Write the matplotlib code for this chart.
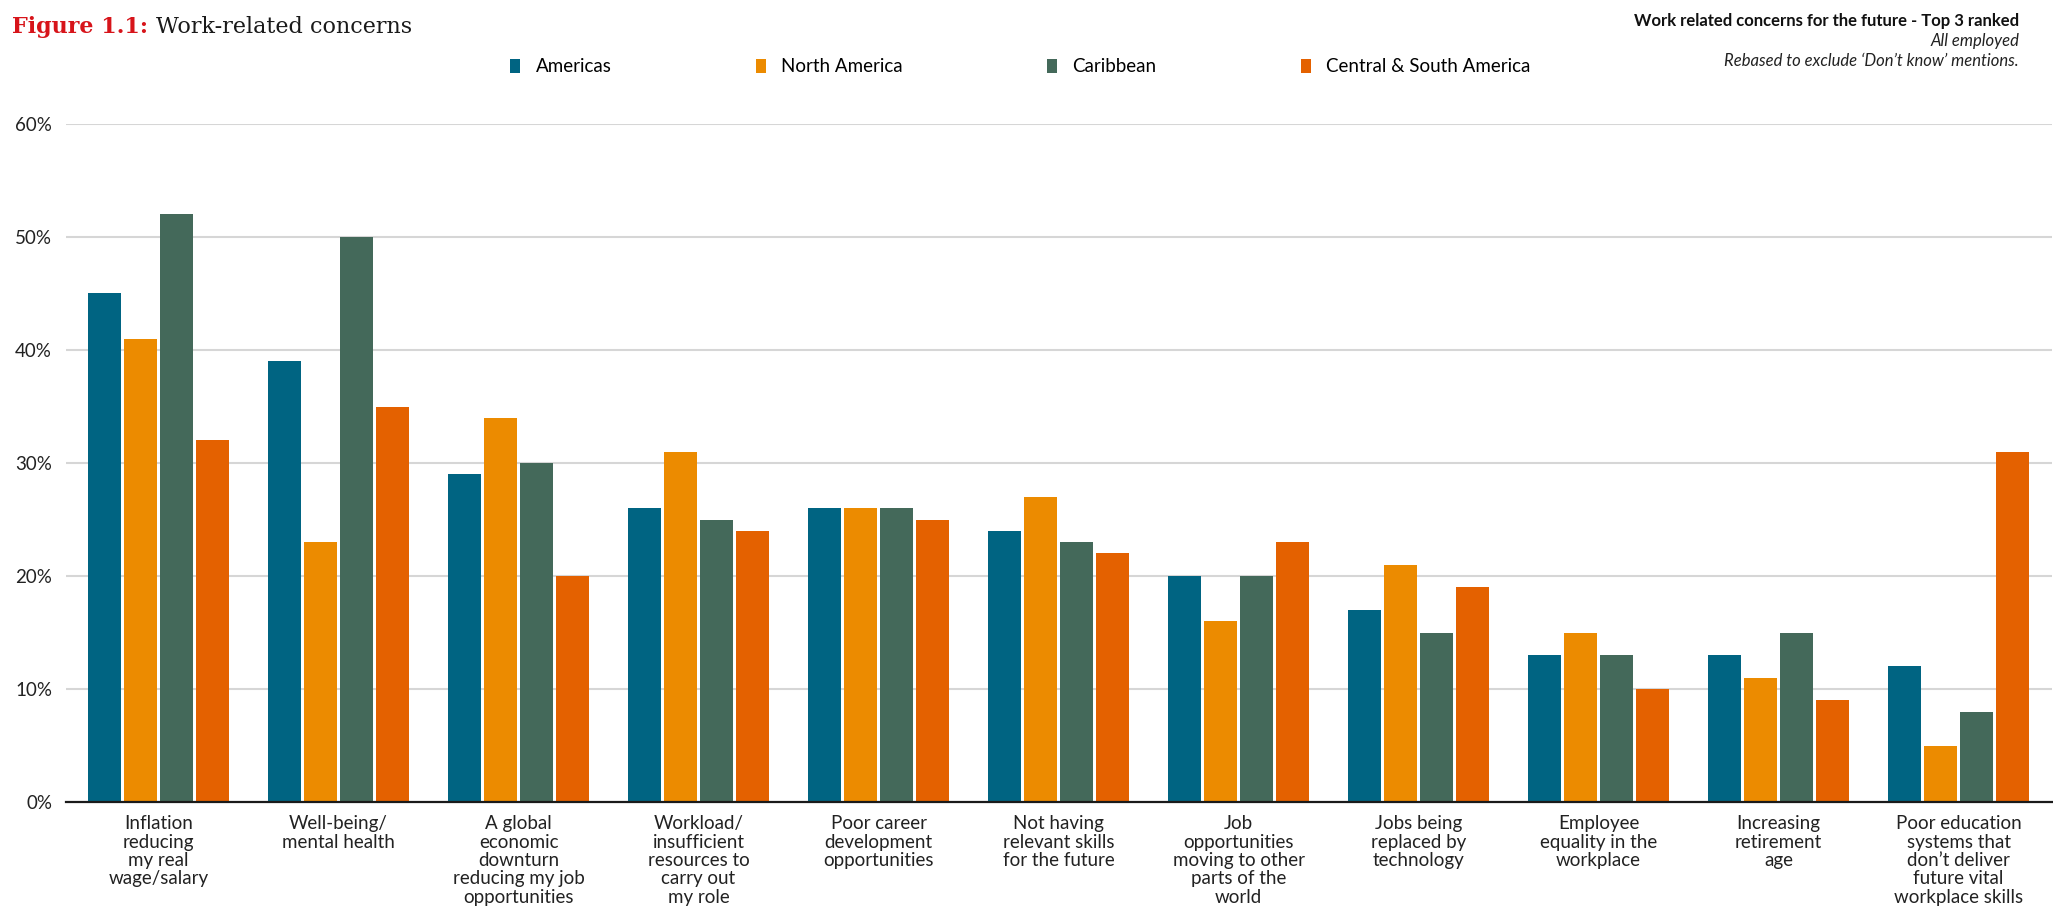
import numpy as np
import matplotlib
matplotlib.use('Agg')
from matplotlib import pyplot as plt
from matplotlib.patches import Patch

plt.rcParams['font.family'] = ['Lato', 'DejaVu Sans']

categories = [
    'Inflation\nreducing\nmy real\nwage/salary',
    'Well-being/\nmental health',
    'A global\neconomic\ndownturn\nreducing my job\nopportunities',
    'Workload/\ninsufficient\nresources to\ncarry out\nmy role',
    'Poor career\ndevelopment\nopportunities',
    'Not having\nrelevant skills\nfor the future',
    'Job\nopportunities\nmoving to other\nparts of the\nworld',
    'Jobs being\nreplaced by\ntechnology',
    'Employee\nequality in the\nworkplace',
    'Increasing\nretirement\nage',
    'Poor education\nsystems that\ndon\u2019t deliver\nfuture vital\nworkplace skills',
]
series_names = ['Americas', 'North America', 'Caribbean', 'Central & South America']
americas = [45, 39, 29, 26, 26, 24, 20, 17, 13, 13, 12]
north_america = [41, 23, 34, 31, 26, 27, 16, 21, 15, 11, 5]
caribbean = [52, 50, 30, 25, 26, 23, 20, 15, 13, 15, 8]
central_south = [32, 35, 20, 24, 25, 22, 23, 19, 10, 9, 31]
yticks = [0, 10, 20, 30, 40, 50, 60]

colors = ['#006482', '#EC8B00', '#44695A', '#E46100']
series = [americas, north_america, caribbean, central_south]

W, H = 2053, 907
fig = plt.figure(figsize=(W / 100, H / 100), dpi=100)
ax = fig.add_axes([66 / W, 1 - 802 / H, (2052 - 66) / W, (802 - 124) / H])

x = np.arange(len(categories))
bw = 0.183
for i, (vals, c) in enumerate(zip(series, colors)):
    ax.bar(x + (i - 1.5) * 0.2, vals, width=bw, color=c, zorder=3)

ax.set_xlim(-0.514, len(categories) - 1 + 0.519)
ax.set_ylim(0, 60)
ax.set_yticks(yticks)
ax.set_yticklabels([f'{v}%' for v in yticks], fontsize=13.5, color='#222222')
for v in yticks[1:]:
    ax.axhline(v, color='#d6d6d6', lw=1.5, zorder=1)
for s in ['top', 'right', 'left']:
    ax.spines[s].set_visible(False)
ax.spines['bottom'].set_color('#1a1a1a')
ax.spines['bottom'].set_linewidth(1.6)
ax.spines['bottom'].set_zorder(4)
ax.tick_params(axis='y', length=0, pad=10)
ax.tick_params(axis='x', length=0, pad=9.5)
ax.set_xticks(x)
ax.set_xticklabels(categories, fontsize=13.5, color='#222222', linespacing=1.1)

# title: red prefix + black rest, placed next to each other
t1 = fig.text(12 / W, 1 - 33 / H, 'Figure 1.1:', fontsize=16, color='#D7141A',
              fontweight='bold', family=['DejaVu Serif'], va='baseline', ha='left')
fig.canvas.draw()
bb = t1.get_window_extent()
fig.text((bb.x1 + 8) / W, 1 - 33 / H, 'Work-related concerns', fontsize=16, color='#1a1a1a',
         family=['DejaVu Serif'], va='baseline', ha='left')

fig.text(2019 / W, 1 - 21 / H, 'Work related concerns for the future - Top 3 ranked',
         fontsize=12, fontweight='bold', ha='right', va='center', color='#111111')
fig.text(2019 / W, 1 - 41 / H, 'All employed', fontsize=12, style='italic',
         ha='right', va='center', color='#222222')
fig.text(2019 / W, 1 - 61 / H, 'Rebased to exclude \u2018Don\u2019t know\u2019 mentions.',
         fontsize=12, style='italic', ha='right', va='center', color='#222222')

handles = [Patch(facecolor=c, edgecolor='none') for c in colors]
fig.legend(handles, series_names, loc='center', bbox_to_anchor=(0.497, 1 - 67 / H),
           ncol=4, frameon=False, fontsize=13.5, handlelength=0.55, handleheight=0.85,
           handletextpad=0.8, columnspacing=7.7)

fig.savefig('out.png', dpi=100)
